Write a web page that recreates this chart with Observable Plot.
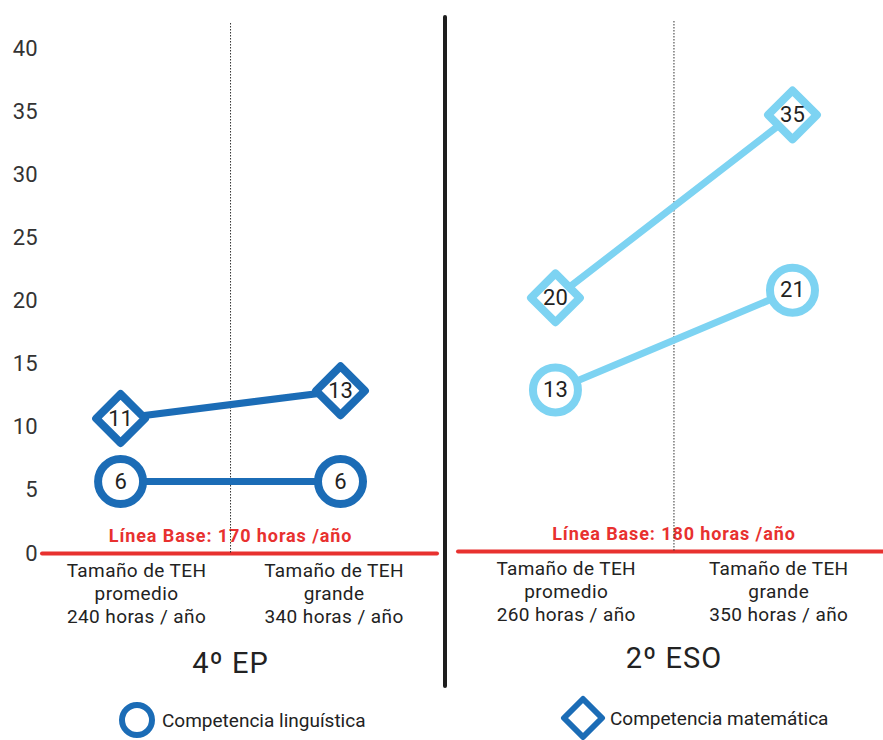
<!DOCTYPE html>
<html><head><meta charset="utf-8">
<script src="https://cdn.jsdelivr.net/npm/d3@7"></script>
<script src="https://cdn.jsdelivr.net/npm/@observablehq/plot@0.6"></script>
<style>
body{margin:0;background:#fff;font-family:Roboto,sans-serif;}
#wrap{position:relative;width:883px;height:740px;overflow:hidden;}
#row{display:flex;align-items:flex-start;}
#row svg{display:block;}
#sep{width:4px;margin-top:15px;height:673px;background:#1e1e1e;border-radius:2px;flex:none;}
.leg{position:absolute;display:flex;align-items:center;font-size:19px;color:#222;white-space:nowrap;}
.leg svg{display:block;}
svg g[fill="#e8312f"] text{letter-spacing:0.9px;}
svg g[font-size="19"] text{letter-spacing:0.4px;}
svg g[font-size="29"] text{letter-spacing:1px;}
</style></head><body>
<div id="wrap"><div id="row"><div id="left"></div><div id="sep"></div><div id="right"></div></div><div id="legend"></div></div>
<script>
const panels = ["4º EP", "2º ESO"];
const categories = ["Tamaño de TEH\npromedio", "Tamaño de TEH\ngrande"];
const hoursEP = ["240 horas / año", "340 horas / año"];
const hoursESO = ["260 horas / año", "350 horas / año"];
const baseLines = ["Línea Base: 170 horas /año", "Línea Base: 180 horas /año"];
const series = ["Competencia linguística", "Competencia matemática"];
const linguisticaEP = [5.7, 5.7];
const matematicaEP = [10.7, 12.9];
const linguisticaESO = [12.8, 20.7];
const matematicaESO = [20.1, 34.6];
const yTicks = [0, 5, 10, 15, 20, 25, 30, 35, 40];

const darkBlue = "#1b6cb6";
const lightBlue = "#7dd3f2";
const red = "#e8312f";
const ink = "#222";

function panel(o) {
  const rows = [
    ...o.ling.map((v, i) => ({serie: series[0], i, v})),
    ...o.mat.map((v, i) => ({serie: series[1], i, v}))
  ];
  // category labels centred in each half of the panel
  const bandCenter = i => i === 0 ? (o.xDomain[0] + 0.5) / 2 : (0.5 + o.xDomain[1]) / 2;
  const cats = categories.map((c, i) => ({i, label: c + "\n" + o.hours[i]}));
  return Plot.plot({
    width: o.width, height: 695,
    marginLeft: o.marginLeft, marginRight: o.marginRight,
    marginTop: o.marginTop, marginBottom: o.marginBottom,
    x: {domain: o.xDomain, axis: null},
    y: {domain: [0, 42], axis: null},
    style: {fontFamily: "Roboto, sans-serif", background: "white", overflow: "visible"},
    marks: [
      o.showY ? Plot.axisY(yTicks, {tickSize: 0, tickPadding: 5, fontSize: 22, fill: "#333", label: null}) : null,
      Plot.ruleY([0], {stroke: red, strokeWidth: 4, strokeLinecap: "round"}),
      Plot.text([o.base], {x: () => 0.5, y: () => 0, text: d => d, fill: red, fontWeight: "bold", fontSize: 18, dy: -17}),
      Plot.ruleX([0.5], {stroke: "#333", strokeWidth: 1, strokeDasharray: "1.5,1.5"}),
      Plot.line(rows, {x: "i", y: "v", z: "serie", stroke: o.color, strokeWidth: 7}),
      Plot.dot(rows, {filter: d => d.serie === series[0], x: "i", y: "v", symbol: "circle", r: 22.5, fill: "white", stroke: o.color, strokeWidth: 8}),
      Plot.dot(rows, {filter: d => d.serie === series[1], x: "i", y: "v", symbol: "diamond2", r: 22, fill: "white", stroke: o.color, strokeWidth: 8, strokeLinejoin: "round"}),
      Plot.text(rows, {x: "i", y: "v", text: d => String(Math.round(d.v)), fontSize: 22, fill: ink}),
      Plot.text(cats, {x: d => bandCenter(d.i), text: "label", frameAnchor: "bottom", lineAnchor: "top", dy: o.catDy, fontSize: 19, lineHeight: 1.21, fill: ink}),
      Plot.text([o.title], {x: () => 0.5, text: d => d, frameAnchor: "bottom", dy: o.titleDy, fontSize: 29, fill: ink})
    ]
  });
}

document.getElementById("left").append(panel({
  title: panels[0], base: baseLines[0], hours: hoursEP, ling: linguisticaEP, mat: matematicaEP,
  color: darkBlue, width: 443, marginLeft: 42, marginRight: 6, marginTop: 23, marginBottom: 142,
  xDomain: [-0.355, 1.441], showY: true, titleDy: 119, catDy: 7
}));
document.getElementById("right").append(panel({
  title: panels[1], base: baseLines[1], hours: hoursESO, ling: linguisticaESO, mat: matematicaESO,
  color: lightBlue, width: 436, marginLeft: 11, marginRight: 0, marginTop: 21, marginBottom: 144,
  xDomain: [-0.409, 1.384], showY: false, titleDy: 116, catDy: 7
}));

const legend = document.getElementById("legend");
legend.innerHTML =
  `<div class="leg" style="left:116px;top:699px"><svg width="42" height="42"><circle cx="21" cy="21" r="15" fill="white" stroke="${darkBlue}" stroke-width="6"/></svg><span style="margin-left:4px">${series[0]}</span></div>` +
  `<div class="leg" style="left:560px;top:695px"><svg width="46" height="46"><path d="M23,4L42,23L23,42L4,23Z" fill="white" stroke="${darkBlue}" stroke-width="6" stroke-linejoin="round"/></svg><span style="margin-left:4px">${series[1]}</span></div>`;
</script>
</body></html>
